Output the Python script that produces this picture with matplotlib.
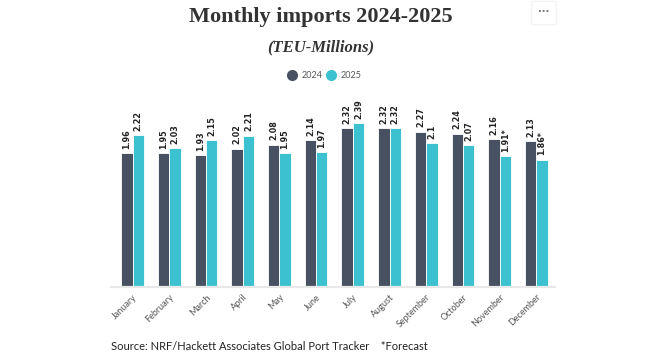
import matplotlib.pyplot as plt
import numpy as np
from matplotlib.lines import Line2D
from matplotlib.patches import FancyBboxPatch

OUTPUT_FILE = "out.png"

MONTHS = [
    "January", "February", "March", "April", "May", "June",
    "July", "August", "September", "October", "November", "December",
]
IMPORTS_2024 = [1.96, 1.95, 1.93, 2.02, 2.08, 2.14, 2.32, 2.32, 2.27, 2.24, 2.16, 2.13]
IMPORTS_2025 = [2.22, 2.03, 2.15, 2.21, 1.95, 1.97, 2.39, 2.32, 2.10, 2.07, 1.91, 1.86]
LABELS_2024 = ["1.96", "1.95", "1.93", "2.02", "2.08", "2.14", "2.32", "2.32", "2.27", "2.24", "2.16", "2.13"]
LABELS_2025 = ["2.22", "2.03", "2.15", "2.21", "1.95", "1.97", "2.39", "2.32", "2.1", "2.07", "1.91*", "1.86*"]

COLOR_2024 = "#475162"
COLOR_2025 = "#3bc1d0"
TEXT_GRAY = "#555555"


def main() -> None:
    figure = plt.figure(figsize=(6.6, 3.61), dpi=100)
    axis = figure.add_axes([111 / 660, 1 - 287 / 361, 444 / 660, 187 / 361])

    x = np.arange(len(MONTHS))
    width = 0.31

    bars_2024 = axis.bar(
        x - width / 2, IMPORTS_2024, width,
        color=COLOR_2024, edgecolor="white", linewidth=0.6,
    )
    bars_2025 = axis.bar(
        x + width / 2, IMPORTS_2025, width,
        color=COLOR_2025, edgecolor="white", linewidth=0.6,
    )

    for bars, labels in ((bars_2024, LABELS_2024), (bars_2025, LABELS_2025)):
        for bar, label in zip(bars, labels):
            axis.annotate(
                label,
                (bar.get_x() + bar.get_width() / 2, bar.get_height()),
                xytext=(0, 3), textcoords="offset points",
                rotation=90, ha="center", va="bottom",
                fontsize=5.8, fontweight="bold", color="#222222",
            )

    axis.set_xlim(-0.59, 11.51)
    axis.set_ylim(0, 2.73)
    axis.set_xticks(x)
    axis.set_xticklabels(
        MONTHS, rotation=45, ha="right", rotation_mode="anchor",
        fontsize=6.5, color=TEXT_GRAY, family="Lato",
    )
    axis.tick_params(axis="x", length=0, pad=4)
    axis.set_yticks([])
    for side in ("top", "right", "left"):
        axis.spines[side].set_visible(False)
    axis.spines["bottom"].set_color("#e8e8e8")
    axis.spines["bottom"].set_linewidth(1.6)

    figure.text(
        321 / 660, 1 - 17 / 361, "Monthly imports 2024-2025",
        ha="center", va="center", fontsize=16, fontweight="bold",
        family="Liberation Serif", color="#333333",
    )
    figure.text(
        321 / 660, 1 - 47 / 361, "(TEU-Millions)",
        ha="center", va="center", fontsize=12, fontweight="bold",
        style="italic", family="Liberation Serif", color="#333333",
    )

    # legend drawn by hand: dots and labels
    for x_dot, x_text, color, name in (
        (292, 302, COLOR_2024, "2024"),
        (331, 341, COLOR_2025, "2025"),
    ):
        figure.add_artist(Line2D(
            [x_dot / 660], [1 - 75 / 361], marker="o", markersize=7,
            color=color, linestyle="none", transform=figure.transFigure,
        ))
        figure.text(
            x_text / 660, 1 - 75 / 361, name, ha="left", va="center",
            fontsize=6.5, color=TEXT_GRAY, family="Lato",
        )

    figure.text(
        111 / 660, 1 - 347 / 361,
        "Source: NRF/Hackett Associates Global Port Tracker    *Forecast",
        ha="left", va="center", fontsize=8, color="#222222", family="Lato",
    )

    menu = FancyBboxPatch(
        (533 / 660, 1 - 24 / 361), 22 / 660, 22 / 361,
        boxstyle="round,pad=0.002", transform=figure.transFigure,
        facecolor="white", edgecolor="#f2f2f2", linewidth=0.8,
    )
    figure.patches.append(menu)
    figure.text(
        544 / 660, 1 - 12 / 361, "···", ha="center", va="center",
        fontsize=7, color="#777777", fontweight="bold",
    )

    figure.savefig(OUTPUT_FILE, dpi=100)
    plt.close(figure)


if __name__ == "__main__":
    main()
